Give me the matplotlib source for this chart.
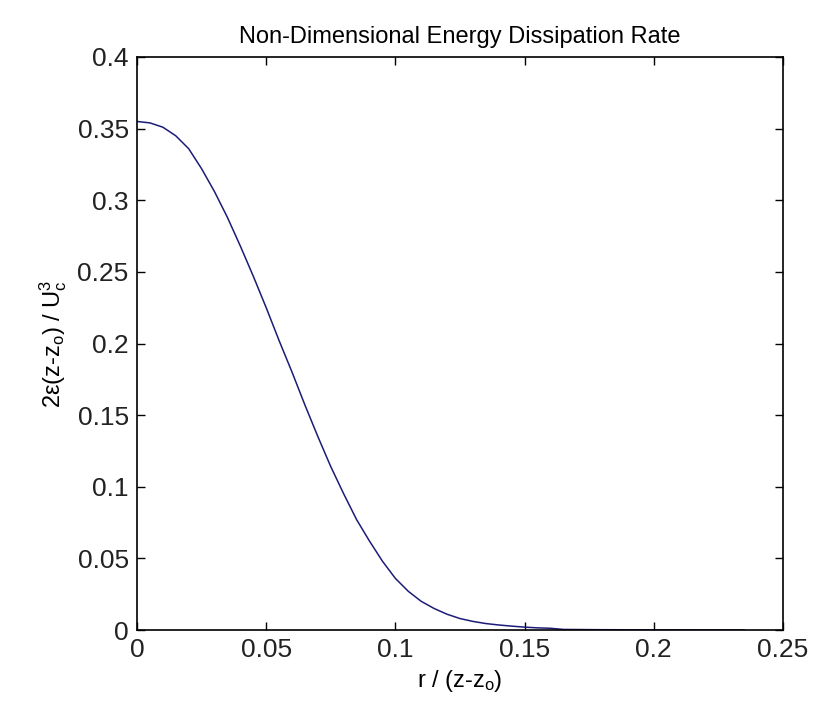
import matplotlib
matplotlib.use("Agg")
import matplotlib.pyplot as plt

plt.rcParams['font.family'] = ['Liberation Sans', 'DejaVu Sans']
plt.rcParams['mathtext.default'] = 'regular'

r_norm = [0.0, 0.005, 0.01, 0.015, 0.02, 0.025, 0.03, 0.035, 0.04, 0.045,
          0.05, 0.055, 0.06, 0.065, 0.07, 0.075, 0.08, 0.085, 0.09, 0.095,
          0.10, 0.105, 0.11, 0.115, 0.12, 0.125, 0.13, 0.135, 0.14, 0.145,
          0.15, 0.155, 0.16, 0.165, 0.18, 0.20, 0.22, 0.235]
dissipation = [0.355, 0.354, 0.351, 0.345, 0.336, 0.322, 0.306, 0.288, 0.268,
               0.247, 0.225, 0.202, 0.180, 0.157, 0.135, 0.114, 0.095, 0.077,
               0.062, 0.048, 0.036, 0.027, 0.020, 0.015, 0.011, 0.008, 0.006,
               0.0045, 0.0035, 0.0027, 0.002, 0.0015, 0.0012, 0.0004, 0.0002,
               0.0001, 0.0, 0.0]

x_ticks = [0, 0.05, 0.1, 0.15, 0.2, 0.25]
x_ticklabels = ['0', '0.05', '0.1', '0.15', '0.2', '0.25']
y_ticks = [0, 0.05, 0.1, 0.15, 0.2, 0.25, 0.3, 0.35, 0.4]
y_ticklabels = ['0', '0.05', '0.1', '0.15', '0.2', '0.25', '0.3', '0.35', '0.4']

fig = plt.figure(figsize=(8.14, 7.09), dpi=100)
ax = fig.add_axes([137/814, 1 - 630/709, (783 - 137)/814, (630 - 57)/709])
ax.plot(r_norm, dissipation, color='#1c1c78', linewidth=1.1)
ax.set_xlim(0, 0.25)
ax.set_ylim(0, 0.4)
ax.set_xticks(x_ticks)
ax.set_xticklabels(x_ticklabels)
ax.set_yticks(y_ticks)
ax.set_yticklabels(y_ticklabels)
ax.tick_params(direction='in', length=6, width=1, top=True, right=True,
               labelsize=19, pad=6, color='black', labelcolor='#222222')
for s in ax.spines.values():
    s.set_linewidth(1.2)
ax.set_title('Non-Dimensional Energy Dissipation Rate', fontsize=17, pad=10)
ax.set_xlabel('r / (z-z$_o$)', fontsize=17, labelpad=4)
ax.set_ylabel('2ε(z-z$_o$) / U$_c^3$', fontsize=17, labelpad=6)
fig.savefig('out.png', dpi=100)
